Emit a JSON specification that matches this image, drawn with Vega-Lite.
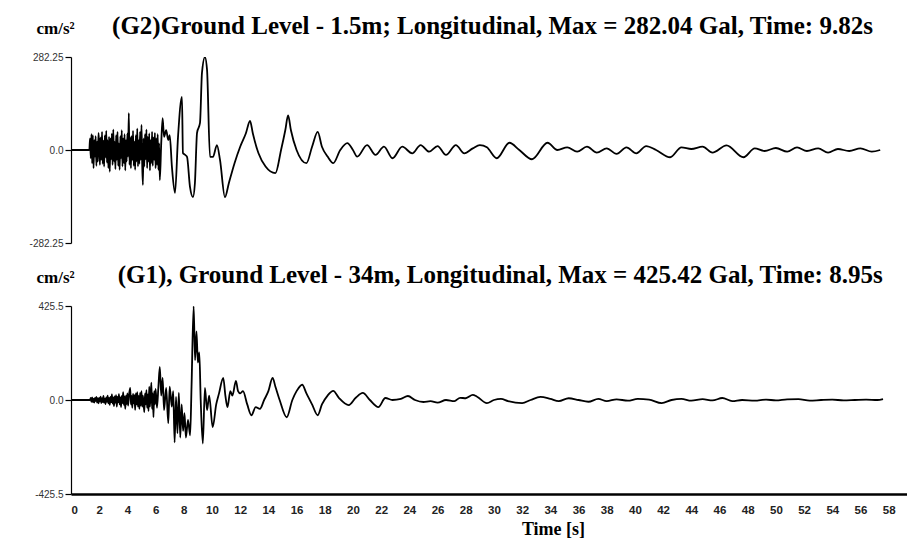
{
  "$schema": "https://vega.github.io/schema/vega-lite/v6.json",
  "background": "white",
  "padding": {"left": 29, "top": 14, "right": 0, "bottom": 0},
  "spacing": 15,
  "config": {
    "view": {"stroke": null},
    "font": "Liberation Sans",
    "axis": {
      "grid": false,
      "domainColor": "black",
      "tickColor": "black",
      "labelColor": "#333333",
      "labelFont": "Liberation Sans",
      "labelFontSize": 10
    },
    "title": {"font": "Liberation Serif", "fontSize": 25, "fontWeight": "bold", "color": "black", "anchor": "start"}
  },
  "datasets": {
    "g2": [
      {"t": 0, "a": 0}, {"t": 1.3, "a": 0},
      {"t": 1.35, "a": 35}, {"t": 1.4, "a": -25}, {"t": 1.45, "a": 48}, {"t": 1.5, "a": -40}, {"t": 1.55, "a": 45}, {"t": 1.6, "a": -55}, {"t": 1.65, "a": 30}, {"t": 1.7, "a": -20}, {"t": 1.75, "a": 42}, {"t": 1.8, "a": -48}, {"t": 1.85, "a": 25}, {"t": 1.9, "a": -35}, {"t": 1.95, "a": 52}, {"t": 2.0, "a": 20}, {"t": 2.05, "a": -45}, {"t": 2.1, "a": 38}, {"t": 2.15, "a": -30}, {"t": 2.2, "a": 55}, {"t": 2.25, "a": -42}, {"t": 2.3, "a": 28}, {"t": 2.35, "a": -50}, {"t": 2.4, "a": 44}, {"t": 2.45, "a": -22}, {"t": 2.5, "a": 58}, {"t": 2.55, "a": -38}, {"t": 2.6, "a": 30}, {"t": 2.65, "a": -55}, {"t": 2.7, "a": 40}, {"t": 2.75, "a": -66}, {"t": 2.8, "a": 35}, {"t": 2.85, "a": -28}, {"t": 2.9, "a": 50}, {"t": 2.95, "a": -45}, {"t": 3.0, "a": 62}, {"t": 3.05, "a": -35}, {"t": 3.1, "a": 25}, {"t": 3.15, "a": -58}, {"t": 3.2, "a": 45}, {"t": 3.25, "a": -30}, {"t": 3.3, "a": 55}, {"t": 3.35, "a": -48}, {"t": 3.4, "a": 20}, {"t": 3.45, "a": -60}, {"t": 3.5, "a": 42}, {"t": 3.55, "a": -25}, {"t": 3.6, "a": 60}, {"t": 3.65, "a": -50}, {"t": 3.7, "a": 35}, {"t": 3.75, "a": -40}, {"t": 3.8, "a": 48}, {"t": 3.85, "a": -62}, {"t": 3.9, "a": 30}, {"t": 3.95, "a": -35}, {"t": 4.0, "a": 50}, {"t": 4.05, "a": -20}, {"t": 4.1, "a": 112}, {"t": 4.15, "a": -45}, {"t": 4.2, "a": 38}, {"t": 4.25, "a": -55}, {"t": 4.3, "a": 42}, {"t": 4.35, "a": -30}, {"t": 4.4, "a": 58}, {"t": 4.45, "a": -48}, {"t": 4.5, "a": 25}, {"t": 4.55, "a": -60}, {"t": 4.6, "a": 45}, {"t": 4.65, "a": -35}, {"t": 4.7, "a": 65}, {"t": 4.75, "a": -50}, {"t": 4.8, "a": 30}, {"t": 4.85, "a": -42}, {"t": 4.9, "a": 55}, {"t": 4.95, "a": -30}, {"t": 5.0, "a": 76}, {"t": 5.05, "a": -40}, {"t": 5.1, "a": -106}, {"t": 5.15, "a": 35}, {"t": 5.2, "a": -50}, {"t": 5.25, "a": 48}, {"t": 5.3, "a": -28}, {"t": 5.35, "a": 62}, {"t": 5.4, "a": -55}, {"t": 5.45, "a": 40}, {"t": 5.5, "a": -35}, {"t": 5.55, "a": 50}, {"t": 5.6, "a": -62}, {"t": 5.65, "a": 30}, {"t": 5.7, "a": -40}, {"t": 5.75, "a": 55}, {"t": 5.8, "a": -48}, {"t": 5.85, "a": 38}, {"t": 5.9, "a": -30}, {"t": 5.95, "a": 52}, {"t": 6.0, "a": -55}, {"t": 6.05, "a": 35}, {"t": 6.1, "a": -45}, {"t": 6.15, "a": 48}, {"t": 6.2, "a": -60}, {"t": 6.25, "a": 20}, {"t": 6.3, "a": -91},
      {"t": 6.4, "a": 20}, {"t": 6.5, "a": 97}, {"t": 6.6, "a": 40}, {"t": 6.75, "a": 60}, {"t": 6.9, "a": 30}, {"t": 7.0, "a": 45}, {"t": 7.16, "a": -52}, {"t": 7.38, "a": -130}, {"t": 7.59, "a": 39}, {"t": 7.87, "a": 161}, {"t": 7.94, "a": -9}, {"t": 8.1, "a": -15}, {"t": 8.23, "a": -21}, {"t": 8.44, "a": -112}, {"t": 8.65, "a": -143}, {"t": 8.79, "a": -100}, {"t": 8.94, "a": 52}, {"t": 9.15, "a": 82}, {"t": 9.29, "a": 234}, {"t": 9.5, "a": 282}, {"t": 9.65, "a": 243}, {"t": 9.86, "a": -21}, {"t": 10.07, "a": -21}, {"t": 10.35, "a": 15}, {"t": 10.57, "a": -30}, {"t": 10.92, "a": -143},
      {"t": 11.2, "a": -100}, {"t": 11.6, "a": -40}, {"t": 12.0, "a": 10}, {"t": 12.4, "a": 50}, {"t": 12.7, "a": 88}, {"t": 12.9, "a": 50}, {"t": 13.3, "a": -10}, {"t": 13.8, "a": -50}, {"t": 14.5, "a": -70}, {"t": 14.9, "a": 0}, {"t": 15.2, "a": 60}, {"t": 15.4, "a": 105}, {"t": 15.6, "a": 60}, {"t": 16.0, "a": 0}, {"t": 16.7, "a": -40}, {"t": 17.1, "a": 10}, {"t": 17.5, "a": 55}, {"t": 17.8, "a": 10}, {"t": 18.2, "a": -20}, {"t": 18.6, "a": -40}, {"t": 19.1, "a": 0}, {"t": 19.6, "a": 21}, {"t": 20.0, "a": 0}, {"t": 20.3, "a": -20},
      {"t": 21.0, "a": 15}, {"t": 21.6, "a": -15}, {"t": 22.2, "a": 10}, {"t": 22.8, "a": -25}, {"t": 23.5, "a": 10}, {"t": 24.2, "a": -10}, {"t": 24.8, "a": 15}, {"t": 25.4, "a": -5}, {"t": 26.0, "a": 12}, {"t": 26.6, "a": -15}, {"t": 27.3, "a": 15}, {"t": 27.9, "a": -10}, {"t": 28.5, "a": 5}, {"t": 29.0, "a": 15}, {"t": 29.5, "a": 8}, {"t": 30.2, "a": -25}, {"t": 31.1, "a": 22}, {"t": 31.8, "a": 0}, {"t": 32.7, "a": -28}, {"t": 33.8, "a": 22}, {"t": 34.5, "a": 0}, {"t": 35.2, "a": 8}, {"t": 35.9, "a": -5}, {"t": 36.6, "a": 10}, {"t": 37.3, "a": -8}, {"t": 38.0, "a": 5}, {"t": 38.7, "a": -12}, {"t": 39.4, "a": 8}, {"t": 40.1, "a": -10}, {"t": 40.8, "a": 12}, {"t": 41.5, "a": 0}, {"t": 42.5, "a": -22}, {"t": 43.3, "a": 8}, {"t": 44.0, "a": 3}, {"t": 44.8, "a": 10}, {"t": 45.5, "a": -8}, {"t": 46.5, "a": 14}, {"t": 47.7, "a": -22}, {"t": 48.5, "a": 5}, {"t": 49.2, "a": -3}, {"t": 50.0, "a": 6}, {"t": 50.8, "a": -5}, {"t": 51.5, "a": 8}, {"t": 52.2, "a": -3}, {"t": 53.0, "a": 5}, {"t": 53.7, "a": -8}, {"t": 54.4, "a": 3}, {"t": 55.2, "a": -3}, {"t": 56.0, "a": 5}, {"t": 56.8, "a": -5}, {"t": 57.4, "a": 0}
    ],
    "g1": [
      {"t": 0, "a": 0}, {"t": 1.35, "a": 0},
      {"t": 1.4, "a": 10}, {"t": 1.45, "a": -8}, {"t": 1.5, "a": 12}, {"t": 1.55, "a": -10}, {"t": 1.6, "a": 6}, {"t": 1.65, "a": -12}, {"t": 1.7, "a": 10}, {"t": 1.75, "a": -5}, {"t": 1.8, "a": 14}, {"t": 1.85, "a": -12}, {"t": 1.9, "a": 8}, {"t": 1.95, "a": -15}, {"t": 2.0, "a": 10}, {"t": 2.05, "a": -6}, {"t": 2.1, "a": 15}, {"t": 2.15, "a": -14}, {"t": 2.2, "a": 8}, {"t": 2.25, "a": -10}, {"t": 2.3, "a": 18}, {"t": 2.35, "a": -12}, {"t": 2.4, "a": 6}, {"t": 2.45, "a": -18}, {"t": 2.5, "a": 12}, {"t": 2.55, "a": -8}, {"t": 2.6, "a": 20}, {"t": 2.65, "a": -15}, {"t": 2.7, "a": 10}, {"t": 2.75, "a": -22}, {"t": 2.8, "a": 14}, {"t": 2.85, "a": -10}, {"t": 2.9, "a": 25}, {"t": 2.95, "a": -16}, {"t": 3.0, "a": 12}, {"t": 3.05, "a": -28}, {"t": 3.1, "a": 16}, {"t": 3.15, "a": -12}, {"t": 3.2, "a": 22}, {"t": 3.25, "a": -30}, {"t": 3.3, "a": 14}, {"t": 3.35, "a": -10}, {"t": 3.4, "a": 26}, {"t": 3.45, "a": -20}, {"t": 3.5, "a": 12}, {"t": 3.55, "a": -32}, {"t": 3.6, "a": 18}, {"t": 3.65, "a": -14}, {"t": 3.7, "a": 35}, {"t": 3.75, "a": -22}, {"t": 3.8, "a": 16}, {"t": 3.85, "a": -40}, {"t": 3.9, "a": 20}, {"t": 3.95, "a": -18}, {"t": 4.0, "a": 30}, {"t": 4.05, "a": -25}, {"t": 4.1, "a": 15}, {"t": 4.2, "a": 55}, {"t": 4.25, "a": -20}, {"t": 4.3, "a": 18}, {"t": 4.35, "a": -35}, {"t": 4.4, "a": 28}, {"t": 4.45, "a": -15}, {"t": 4.5, "a": 22}, {"t": 4.55, "a": -45}, {"t": 4.6, "a": 30}, {"t": 4.65, "a": -20}, {"t": 4.7, "a": 35}, {"t": 4.75, "a": -30}, {"t": 4.8, "a": 18}, {"t": 4.85, "a": -40}, {"t": 4.9, "a": 32}, {"t": 4.95, "a": -25}, {"t": 5.0, "a": 40}, {"t": 5.05, "a": -30}, {"t": 5.1, "a": 20}, {"t": 5.2, "a": -55}, {"t": 5.25, "a": 30}, {"t": 5.3, "a": -20}, {"t": 5.35, "a": 45}, {"t": 5.4, "a": -35}, {"t": 5.45, "a": 25}, {"t": 5.5, "a": -50}, {"t": 5.55, "a": 60}, {"t": 5.6, "a": -30}, {"t": 5.7, "a": 78}, {"t": 5.75, "a": -40}, {"t": 5.8, "a": 30}, {"t": 5.85, "a": -78}, {"t": 5.9, "a": 40}, {"t": 5.95, "a": -20}, {"t": 6.0, "a": 50}, {"t": 6.1, "a": -35}, {"t": 6.2, "a": 60},
      {"t": 6.3, "a": 150}, {"t": 6.4, "a": 20}, {"t": 6.5, "a": 100}, {"t": 6.6, "a": -46}, {"t": 6.75, "a": 55}, {"t": 6.9, "a": -105}, {"t": 7.0, "a": 60}, {"t": 7.15, "a": -30}, {"t": 7.25, "a": 40}, {"t": 7.35, "a": -192}, {"t": 7.45, "a": 14}, {"t": 7.55, "a": -150}, {"t": 7.65, "a": 32}, {"t": 7.75, "a": -170}, {"t": 7.85, "a": -20}, {"t": 7.95, "a": -140}, {"t": 8.05, "a": -60}, {"t": 8.15, "a": -170}, {"t": 8.3, "a": -90}, {"t": 8.45, "a": -160}, {"t": 8.55, "a": 60}, {"t": 8.7, "a": 425}, {"t": 8.8, "a": 180}, {"t": 8.9, "a": 311}, {"t": 9.0, "a": 170}, {"t": 9.1, "a": 215}, {"t": 9.2, "a": 0}, {"t": 9.35, "a": -197}, {"t": 9.5, "a": 55}, {"t": 9.65, "a": -46}, {"t": 9.8, "a": 20}, {"t": 10.05, "a": -123}, {"t": 10.3, "a": -20}, {"t": 10.5, "a": 30}, {"t": 10.8, "a": 100}, {"t": 10.95, "a": 20}, {"t": 11.1, "a": -32}, {"t": 11.3, "a": 40}, {"t": 11.45, "a": 20}, {"t": 11.7, "a": 87}, {"t": 11.85, "a": 40}, {"t": 12.0, "a": 30}, {"t": 12.2, "a": 40}, {"t": 12.5, "a": -20}, {"t": 12.8, "a": -69}, {"t": 13.1, "a": -32}, {"t": 13.4, "a": -40}, {"t": 13.7, "a": 0}, {"t": 14.0, "a": 40}, {"t": 14.3, "a": 100}, {"t": 14.5, "a": 60}, {"t": 14.8, "a": 0}, {"t": 15.3, "a": -78}, {"t": 15.7, "a": 0}, {"t": 16.0, "a": 40}, {"t": 16.4, "a": 69}, {"t": 16.7, "a": 30}, {"t": 17.1, "a": -20}, {"t": 17.5, "a": -69}, {"t": 17.8, "a": -20}, {"t": 18.2, "a": 20}, {"t": 18.6, "a": 41}, {"t": 19.0, "a": 10}, {"t": 19.7, "a": -23}, {"t": 20.2, "a": 10}, {"t": 20.7, "a": 32}, {"t": 21.2, "a": 0}, {"t": 21.8, "a": -32}, {"t": 22.3, "a": 9}, {"t": 22.8, "a": 0}, {"t": 23.4, "a": 5}, {"t": 23.9, "a": 18}, {"t": 24.4, "a": 0}, {"t": 25.0, "a": -9}, {"t": 25.5, "a": -5}, {"t": 26.0, "a": -12}, {"t": 26.6, "a": 0}, {"t": 27.2, "a": -5}, {"t": 27.6, "a": 10}, {"t": 28.0, "a": 8}, {"t": 28.5, "a": 23}, {"t": 28.8, "a": 15}, {"t": 29.5, "a": -14}, {"t": 30.0, "a": 0}, {"t": 30.5, "a": 5}, {"t": 31.0, "a": -5}, {"t": 32.0, "a": -14}, {"t": 32.6, "a": 0}, {"t": 33.3, "a": 14}, {"t": 34.0, "a": 5}, {"t": 34.6, "a": -5}, {"t": 35.3, "a": 8}, {"t": 36.0, "a": 0}, {"t": 36.7, "a": -8}, {"t": 37.4, "a": 5}, {"t": 38.0, "a": -5}, {"t": 38.7, "a": 3}, {"t": 39.5, "a": -3}, {"t": 40.2, "a": 5}, {"t": 41.0, "a": 2}, {"t": 41.9, "a": -14}, {"t": 42.6, "a": 0}, {"t": 43.3, "a": 5}, {"t": 44.0, "a": -3}, {"t": 44.8, "a": 4}, {"t": 45.5, "a": -2}, {"t": 46.2, "a": 9}, {"t": 46.9, "a": -5}, {"t": 47.6, "a": 0}, {"t": 48.5, "a": -3}, {"t": 49.3, "a": 2}, {"t": 50.0, "a": -2}, {"t": 50.8, "a": 3}, {"t": 51.6, "a": 4}, {"t": 52.4, "a": -3}, {"t": 53.2, "a": 0}, {"t": 54.0, "a": 2}, {"t": 54.8, "a": -2}, {"t": 55.6, "a": 0}, {"t": 56.4, "a": 2}, {"t": 57.2, "a": 0}, {"t": 57.6, "a": 4}
    ]
  },
  "vconcat": [
    {
      "width": 836,
      "height": 186,
      "title": {"text": "(G2)Ground Level - 1.5m; Longitudinal, Max = 282.04 Gal, Time: 9.82s", "dx": 83, "offset": -20},
      "data": {"name": "g2"},
      "mark": {"type": "line", "stroke": "black", "strokeWidth": 1.8, "interpolate": "monotone", "clip": true},
      "encoding": {
        "x": {"field": "t", "type": "quantitative", "scale": {"domain": [0, 59.3], "nice": false, "zero": false}, "axis": null},
        "y": {
          "field": "a", "type": "quantitative",
          "scale": {"domain": [-282.25, 282.25], "nice": false},
          "axis": {
            "values": [-282.25, 0, 282.25],
            "labelExpr": "datum.value == 0 ? '0.0' : toString(datum.value)",
            "tickSize": 6, "labelPadding": 2, "domainWidth": 1.2, "tickWidth": 1.2,
            "title": "cm/s²", "titleAngle": 0, "titleX": -35, "titleY": -24, "titleAlign": "left", "titleBaseline": "alphabetic",
            "titleFont": "Liberation Serif", "titleFontSize": 17, "titleFontWeight": "bold", "titleColor": "black"
          }
        }
      }
    },
    {
      "width": 836,
      "height": 188,
      "title": {"text": "(G1), Ground Level - 34m, Longitudinal, Max = 425.42 Gal, Time: 8.95s", "dx": 83, "offset": -20},
      "data": {"name": "g1"},
      "mark": {"type": "line", "stroke": "black", "strokeWidth": 1.8, "interpolate": "monotone", "clip": true},
      "encoding": {
        "x": {
          "field": "t", "type": "quantitative",
          "scale": {"domain": [0, 59.3], "nice": false, "zero": false},
          "axis": {
            "values": [0, 2, 4, 6, 8, 10, 12, 14, 16, 18, 20, 22, 24, 26, 28, 30, 32, 34, 36, 38, 40, 42, 44, 46, 48, 50, 52, 54, 56, 58],
            "domainWidth": 2.5, "ticks": false, "labelPadding": 10, "labelFontWeight": "bold", "labelFontSize": 11.5, "labelColor": "#222222",
            "title": "Time [s]", "titleFont": "Liberation Serif", "titleFontSize": 18, "titleFontWeight": "bold", "titleColor": "black",
            "titleX": 482, "titleAlign": "center", "titlePadding": 5
          }
        },
        "y": {
          "field": "a", "type": "quantitative",
          "scale": {"domain": [-425.5, 425.5], "nice": false},
          "axis": {
            "values": [-425.5, 0, 425.5],
            "labelExpr": "datum.value == 0 ? '0.0' : toString(datum.value)",
            "tickSize": 6, "labelPadding": 2, "domainWidth": 1.2, "tickWidth": 1.2,
            "title": "cm/s²", "titleAngle": 0, "titleX": -35, "titleY": -24, "titleAlign": "left", "titleBaseline": "alphabetic",
            "titleFont": "Liberation Serif", "titleFontSize": 17, "titleFontWeight": "bold", "titleColor": "black"
          }
        }
      }
    }
  ]
}
